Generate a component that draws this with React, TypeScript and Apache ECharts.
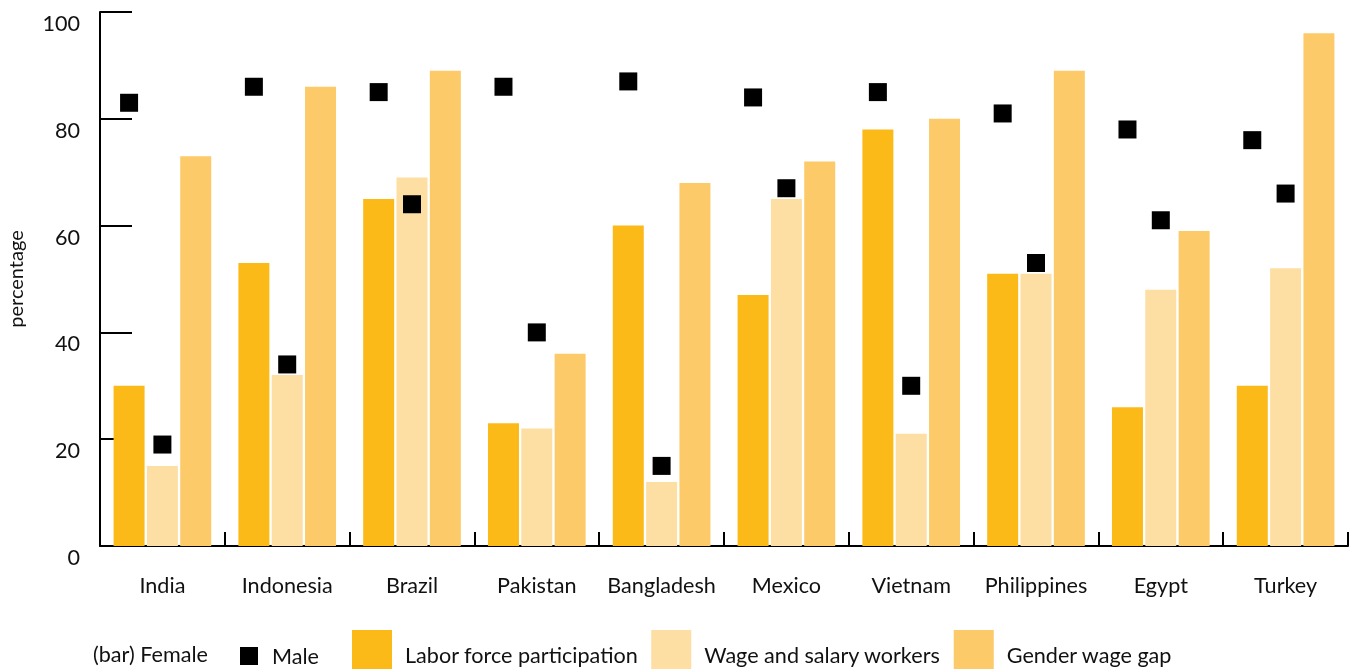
import React, { useEffect, useRef } from "react";
import * as echarts from "echarts";

const categories = ["India", "Indonesia", "Brazil", "Pakistan", "Bangladesh", "Mexico", "Vietnam", "Philippines", "Egypt", "Turkey"];
const femaleLabor = [30, 53, 65, 23, 60, 47, 78, 51, 26, 30];
const femaleWage = [15, 32, 69, 22, 12, 65, 21, 51, 48, 52];
const femaleGap = [73, 86, 89, 36, 68, 72, 80, 89, 59, 96];
const maleLabor = [83, 86, 85, 86, 87, 84, 85, 81, 78, 76];
const maleWage = [19, 34, 64, 40, 15, 67, 30, 53, 61, 66];
const yTicks = [0, 20, 40, 60, 80, 100];

const FONT = "Lato";
const TEXT = "#111";
const FS = 21.6;

export default function App() {
  const ref = useRef<HTMLDivElement>(null);
  useEffect(() => {
    if (!ref.current) return;
    const chart = echarts.init(ref.current, undefined, { renderer: "svg" });
    const barCommon = { barWidth: 31, barGap: "7.5%" };
    const markerCommon = {
      type: "pictorialBar" as const,
      barWidth: 31,
      barGap: "7.5%",
      symbol: "rect",
      symbolSize: [18, 18],
      symbolPosition: "end",
      symbolOffset: [0, "-50%"],
      itemStyle: { color: "#000" },
      z: 5,
    };
    chart.setOption({
      animation: false,
      textStyle: { fontFamily: FONT },
      grid: { left: 100, right: 6, top: 12, bottom: 123, containLabel: false, outerBoundsMode: "none" },
      legend: [
        {
          data: [{ name: "Male", icon: "rect" }],
          left: 240,
          top: 645,
          padding: 0,
          itemWidth: 18,
          itemHeight: 18,
          itemGap: 14,
          textStyle: { fontFamily: FONT, fontSize: FS, color: TEXT, padding: [0, 0, 0, 9] },
          selectedMode: false,
        },
        {
          data: ["Labor force participation", "Wage and salary workers", "Gender wage gap"],
          left: 352,
          top: 630,
          padding: 0,
          itemWidth: 40,
          itemHeight: 50,
          itemGap: 13,
          icon: "rect",
          textStyle: { fontFamily: FONT, fontSize: FS, color: TEXT, padding: [0, 0, 0, 8] },
          selectedMode: false,
        },
      ],
      graphic: [
        {
          type: "text",
          left: 93,
          top: 643,
          style: { text: "(bar) Female", fontFamily: FONT, fontSize: FS, fill: TEXT },
        },
      ],
      xAxis: {
        type: "category",
        data: categories,
        axisLine: { lineStyle: { color: "#000", width: 2 } },
        axisTick: { show: true, inside: true, length: 14, interval: 0, lineStyle: { color: "#000", width: 2 } },
        axisLabel: { margin: 28, interval: 0, fontSize: FS, color: TEXT, fontFamily: FONT },
      },
      yAxis: {
        type: "value",
        min: yTicks[0],
        max: yTicks[yTicks.length - 1],
        interval: 20,
        name: "percentage",
        nameLocation: "middle",
        nameGap: 75,
        nameTextStyle: { fontSize: 20, color: TEXT, fontFamily: FONT },
        axisLine: { show: true, lineStyle: { color: "#000", width: 2 } },
        axisTick: { show: true, inside: true, length: 32, lineStyle: { color: "#000", width: 2 } },
        axisLabel: { margin: 20, fontSize: FS, color: TEXT, fontFamily: FONT, verticalAlign: "top" },
        splitLine: { show: false },
      },
      series: [
        { name: "Labor force participation", type: "bar", data: femaleLabor, itemStyle: { color: "#FCBA19" }, ...barCommon },
        { name: "Wage and salary workers", type: "bar", data: femaleWage, itemStyle: { color: "#FDDFA3" }, ...barCommon },
        { name: "Gender wage gap", type: "bar", data: femaleGap, itemStyle: { color: "#FDCA69" }, ...barCommon },
        { name: "Male", data: maleLabor, ...markerCommon },
        { name: "Male", data: maleWage, ...markerCommon },
        { name: "spacer", data: categories.map(() => "-"), ...markerCommon },
      ],
    });
    return () => chart.dispose();
  }, []);
  return <div ref={ref} style={{ position: "fixed", left: 0, top: 0, width: 1354, height: 669 }} />;
}
